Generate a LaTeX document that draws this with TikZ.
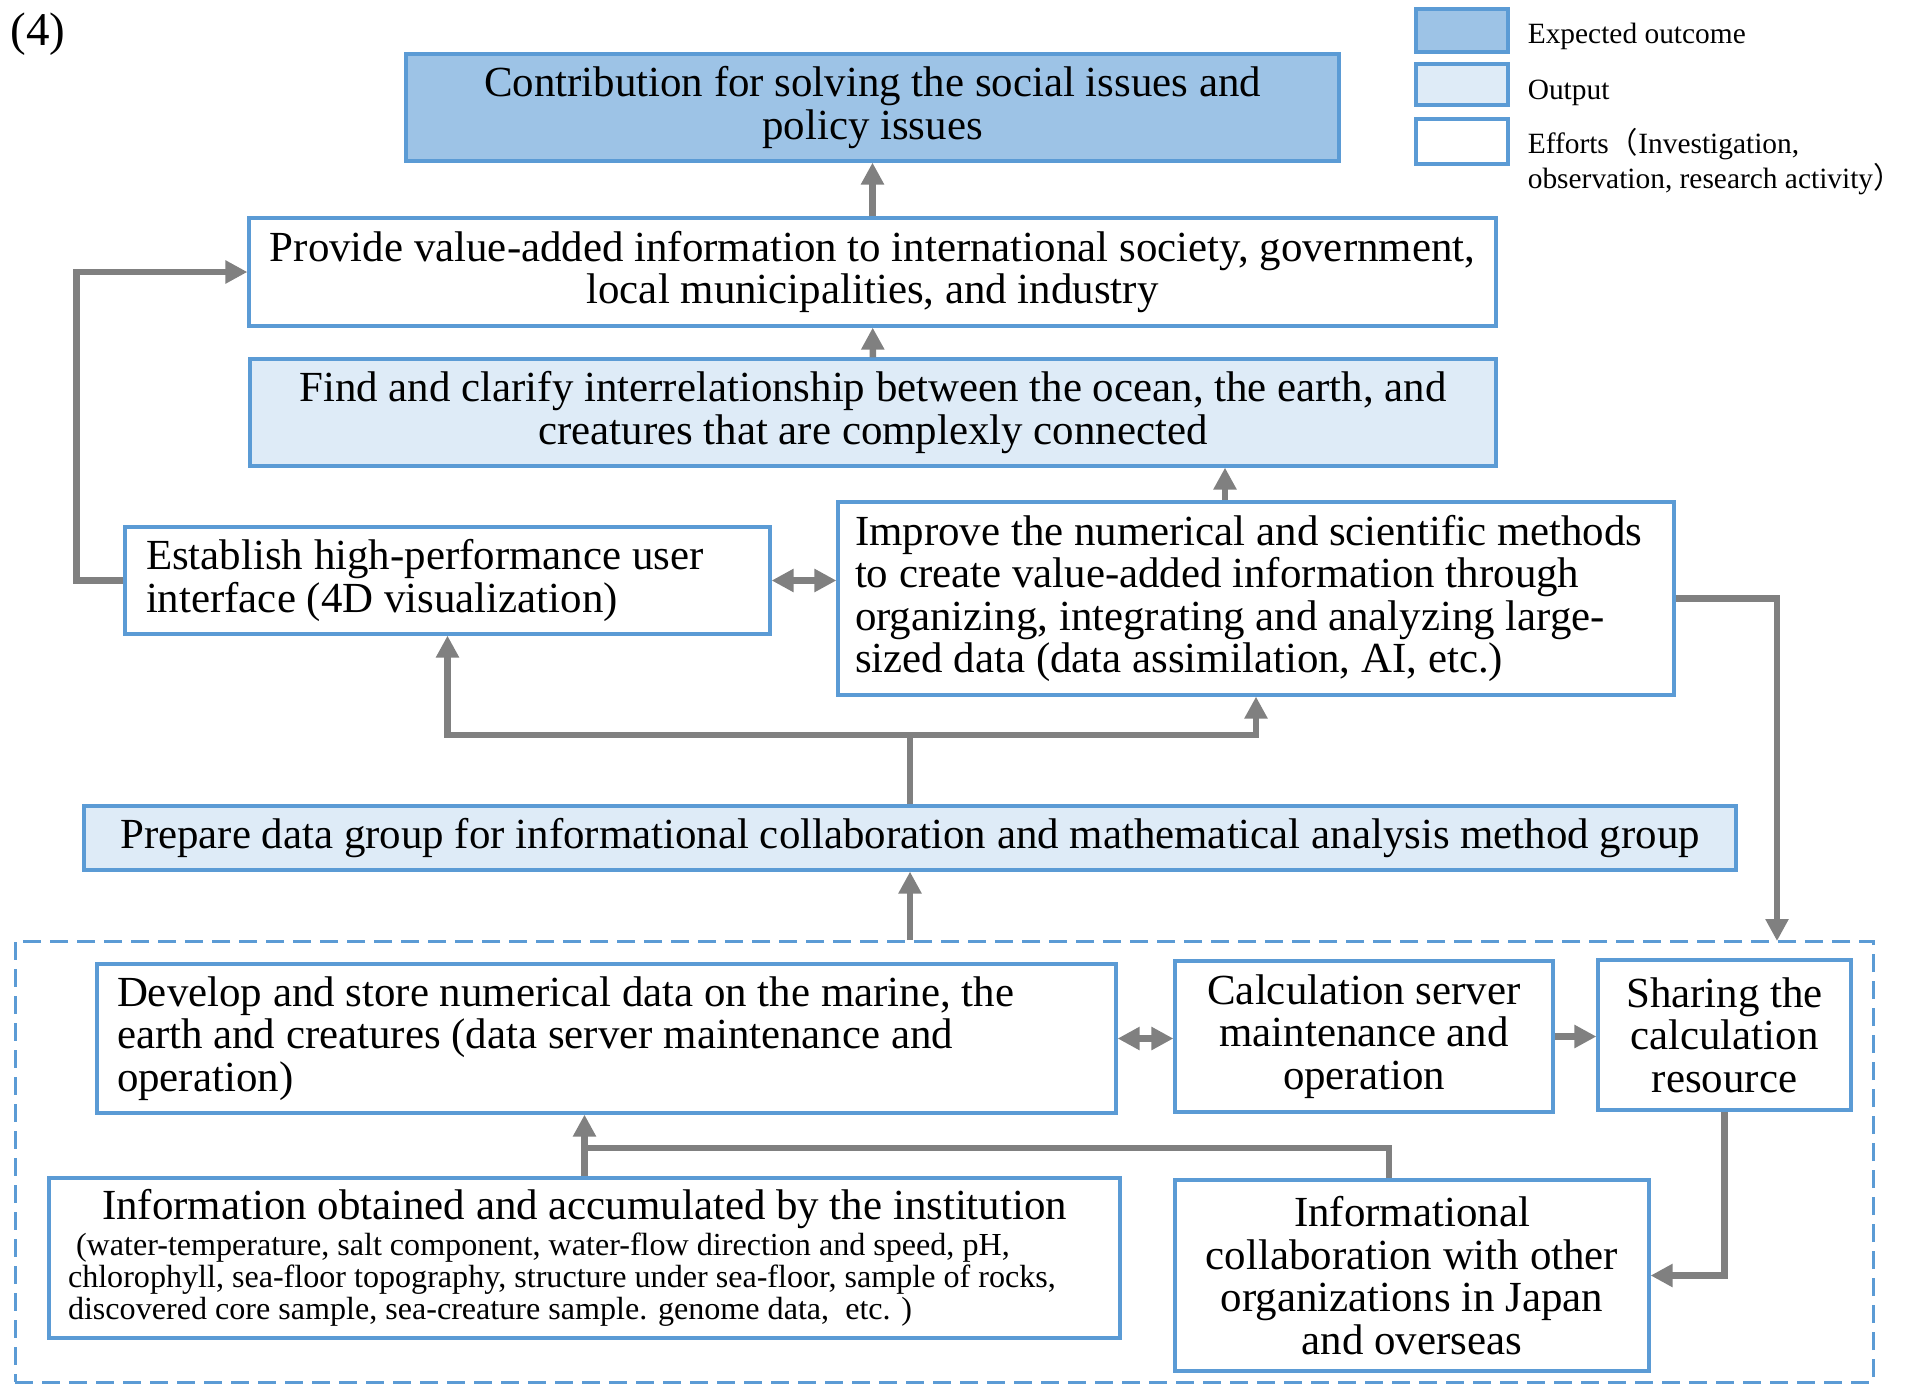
\documentclass[tikz,border=0pt]{standalone}
\usepackage{fontspec}
\setmainfont{Liberation Serif}
\newfontfamily\cjk{Noto Sans CJK JP}
\usetikzlibrary{positioning,arrows.meta}

\definecolor{boxline}{HTML}{5B9BD5}
\definecolor{outcomefill}{HTML}{9DC3E6}
\definecolor{outputfill}{HTML}{DEEBF7}
\definecolor{arrowgray}{HTML}{808080}

\newcommand\mainsize{\fontsize{42.9}{42.5}\selectfont}
\newcommand\infosize{\fontsize{32.1}{32}\selectfont}
\newcommand\keysize{\fontsize{29.4}{35}\selectfont}

\tikzset{
  box/.style={draw=boxline, line width=3.2pt, inner sep=0pt, align=center, font=\mainsize},
  outcome/.style={box, fill=outcomefill},
  output/.style={box, fill=outputfill},
  effort/.style={box, fill=white},
  group/.style={draw=boxline, line width=3pt, dash pattern=on 18pt off 9pt},
  keytext/.style={font=\keysize, inner sep=0pt, align=left},
}

\begin{document}
\begin{tikzpicture}[x=1pt, y=-1pt,
  link/.style={draw=arrowgray, line width=6.5pt},
  >={Triangle[length=22pt,width=22pt]}]

\useasboundingbox (0,0) rectangle (1908,1386);

\node[font=\fontsize{47}{50}\selectfont] (tag) at (38,34) {(4)};

% legend
\node[outcome, minimum width=92pt, minimum height=43pt] (key1) at (1462,30.5) {};
\node[output, minimum width=92pt, minimum height=41pt] (key2) at (1462,84.5) {};
\node[effort, minimum width=92pt, minimum height=45pt] (key3) at (1462,141.5) {};
\node[keytext, right=18pt of key1, yshift=-6pt] (key1txt) {Expected outcome};
\node[keytext, right=18pt of key2, yshift=-8pt] (key2txt) {Output};
\node[keytext, anchor=north west] (key3txt) at ([xshift=18pt,yshift=-11pt]key3.north east)
  {Efforts{\cjk （}Investigation,\\observation, research activity{\cjk ）}};

% expected outcome and outputs
\node[outcome, minimum width=933pt, minimum height=107pt] (goal) at (872.5,107.5)
  {Contribution for solving the social issues and\\policy issues};
\node[effort, minimum width=1247pt, minimum height=108pt] (provide) at (872.5,272)
  {Provide value-added information to international society, government,\\local municipalities, and industry};
\node[output, minimum width=1246pt, minimum height=107pt] (clarify) at (873,412.5)
  {Find and clarify interrelationship between the ocean, the earth, and\\creatures that are complexly connected};
\node[effort, text width=603pt, inner xsep=21pt, minimum height=107pt, align=flush left] (ui) at (447.5,580.5)
  {Establish high-performance user\\interface (4D visualization)};
\node[effort, text width=802pt, inner xsep=17pt, minimum height=193pt, align=flush left] (methods) at (1256,598.5)
  {Improve the numerical and scientific methods\\to create value-added information through\\organizing, integrating and analyzing large-\\sized data (data assimilation, AI, etc.)};
\node[output, minimum width=1652pt, minimum height=64pt] (prepare) at (910,838)
  {Prepare data group for informational collaboration and mathematical analysis method group};

% efforts
\node[group, minimum width=1858pt, minimum height=441pt] (efforts) at (944,1161.5) {};
\node[effort, text width=979pt, inner xsep=20pt, minimum height=149pt, align=flush left] (store) at (606.5,1038.5)
  {Develop and store numerical data on the marine, the\\earth and creatures (data server maintenance and\\operation)};
\node[effort, minimum width=378pt, minimum height=151pt] (server) at (1364,1036.5)
  {Calculation server\\maintenance and\\operation};
\node[effort, minimum width=253pt, minimum height=150pt] (share) at (1724.5,1035)
  {Sharing the\\calculation\\resource};
\node[effort, text width=1033pt, inner xsep=19pt, minimum height=160pt, align=flush left] (institution) at (584.5,1258)
  {\centerline{Information obtained and accumulated by the institution}\vskip4pt
   \noindent\infosize\hspace*{8pt}(water-temperature, salt component, water-flow direction and speed, pH,\\
   chlorophyll, sea-floor topography, structure under sea-floor, sample of rocks,\\
   discovered core sample, sea-creature sample. genome data,\ \ etc. )\par};
\node[effort, minimum width=474pt, minimum height=191pt] (partners) at (1412,1275.5)
  {Informational\\collaboration with other\\organizations in Japan\\and overseas};

\coordinate (split) at (910,735);
\coordinate (drop) at (1777,941);
\coordinate (merge) at (584.5,1148);

\draw[link,->] (provide) -- (goal);
\draw[link,->] (clarify) -- (provide);
\draw[link,->] ([xshift=-31pt]methods.north) -- ([xshift=-31pt]methods.north |- clarify.south);
\draw[link,->] (ui.west) -- ++(-47,0) |- (provide.west);
\draw[link,<->] (ui.east) -- (ui.east -| methods.west);
\draw[link] (prepare.north) -- (split);
\draw[link,->] (split) -| (ui.south);
\draw[link,->] (split) -| (methods.south);
\draw[link,->] (methods.east) -| (drop);
\draw[link,->] (prepare.south |- efforts.north) -- (prepare.south);

\draw[link,<->] (store.east) -- (store.east -| server.west);
\draw[link,->] (server.east) -- (server.east -| share.west);
\draw[link,->] (share.south) |- (partners.east);
\draw[link,->] (institution.north) -- (institution.north |- store.south);
\draw[link] ([xshift=-23pt]partners.north) |- (merge);

\end{tikzpicture}
\end{document}
